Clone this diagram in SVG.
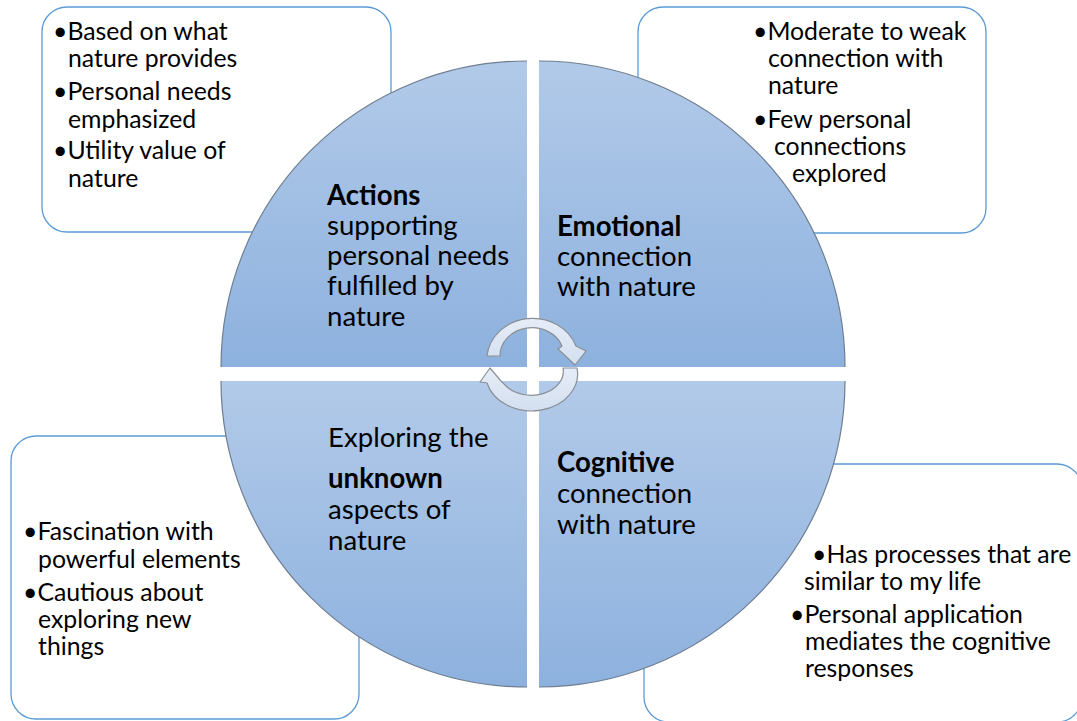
<svg xmlns="http://www.w3.org/2000/svg" width="1077" height="721" viewBox="0 0 1077 721">
  <defs>
    <linearGradient id="quadFill" x1="0" y1="0" x2="0" y2="1">
      <stop offset="0" stop-color="#b2cae9"/>
      <stop offset="1" stop-color="#8db1de"/>
    </linearGradient>
    <linearGradient id="arrowFill" x1="0" y1="0" x2="0" y2="1">
      <stop offset="0" stop-color="#e6edf7"/>
      <stop offset="1" stop-color="#d3dff0"/>
    </linearGradient>
  </defs>
  <style>
    .box { fill: #ffffff; stroke: #5b9bd5; stroke-width: 1.3; }
    .quad { fill: url(#quadFill); stroke: none; }
    .rim { fill: none; stroke: #6e7d90; stroke-width: 1.2; }
    .txt { font-family: Lato, "Liberation Sans", sans-serif; fill: #000000; }
    .side { font-size: 24.8px; }
    .main { font-size: 27.6px; }
    .bold { font-weight: bold; }
    .arrow { fill: url(#arrowFill); stroke: #8a8f96; stroke-width: 1.2; stroke-linejoin: round; }
  </style>

  <!-- side note boxes -->
  <g id="box-actions">
    <rect class="box" x="42" y="7" width="349" height="225" rx="25"/>
    <g class="txt side">
      <text x="53" y="40">•Based on what</text>
      <text x="68" y="67">nature provides</text>
      <text x="53" y="100">•Personal needs</text>
      <text x="68" y="128">emphasized</text>
      <text x="53" y="159">•Utility value of</text>
      <text x="68" y="187">nature</text>
    </g>
  </g>

  <g id="box-emotional">
    <rect class="box" x="638" y="7" width="348" height="226" rx="25"/>
    <g class="txt side">
      <text x="753" y="40">•Moderate to weak</text>
      <text x="768" y="67">connection with</text>
      <text x="768" y="94">nature</text>
      <text x="753" y="128">•Few personal</text>
      <text x="774" y="155">connections</text>
      <text x="792" y="182">explored</text>
    </g>
  </g>

  <g id="box-exploring">
    <rect class="box" x="11" y="436" width="348" height="283" rx="25"/>
    <g class="txt side">
      <text x="23" y="540">•Fascination with</text>
      <text x="38" y="568">powerful elements</text>
      <text x="23" y="601">•Cautious about</text>
      <text x="38" y="628">exploring new</text>
      <text x="38" y="655">things</text>
    </g>
  </g>

  <g id="box-cognitive">
    <rect class="box" x="644" y="464" width="438" height="258" rx="25"/>
    <g class="txt side">
      <text x="812" y="563">•Has processes that are</text>
      <text x="804" y="590">similar to my life</text>
      <text x="790" y="623">•Personal application</text>
      <text x="805" y="650">mediates the cognitive</text>
      <text x="805" y="677">responses</text>
    </g>
  </g>

  <!-- four quarter discs of the cycle -->
  <g id="quad-actions">
    <path class="quad" d="M527,367 L221,367 A306,306 0 0 1 527,61 Z"/>
    <path class="rim" d="M221,367 A306,306 0 0 1 527,61"/>
    <g class="txt main">
      <text x="327" y="205" class="bold">Actions</text>
      <text x="327" y="235">supporting</text>
      <text x="327" y="265">personal needs</text>
      <text x="327" y="295">fulfilled by</text>
      <text x="327" y="326">nature</text>
    </g>
  </g>

  <g id="quad-emotional">
    <path class="quad" d="M539,367 L539,61 A306,306 0 0 1 845,367 Z"/>
    <path class="rim" d="M539,61 A306,306 0 0 1 845,367"/>
    <g class="txt main">
      <text x="557" y="236" class="bold">Emotional</text>
      <text x="557" y="266">connection</text>
      <text x="557" y="296">with nature</text>
    </g>
  </g>

  <g id="quad-exploring">
    <path class="quad" d="M527,381 L527,687 A306,306 0 0 1 221,381 Z"/>
    <path class="rim" d="M527,687 A306,306 0 0 1 221,381"/>
    <g class="txt main">
      <text x="328" y="447">Exploring the</text>
      <text x="328" y="488" class="bold">unknown</text>
      <text x="328" y="519">aspects of</text>
      <text x="328" y="550">nature</text>
    </g>
  </g>

  <g id="quad-cognitive">
    <path class="quad" d="M539,381 L845,381 A306,306 0 0 1 539,687 Z"/>
    <path class="rim" d="M845,381 A306,306 0 0 1 539,687"/>
    <g class="txt main">
      <text x="557" y="472" class="bold">Cognitive</text>
      <text x="557" y="503">connection</text>
      <text x="557" y="534">with nature</text>
    </g>
  </g>

  <!-- circular arrows in the centre -->
  <g id="connectors">
    <path class="arrow" d="M487,356 A46,42 0 0 1 576,346 L586,351 L575,365 L558,349 L562,346 A32,28 0 0 0 500,356 Z"/>
    <path class="arrow" d="M577,368 A46,37 0 0 1 487,383 L480,382 L490,368 L501,381 L506,386 A32,24 0 0 0 563,368 Z"/>
  </g>
</svg>
